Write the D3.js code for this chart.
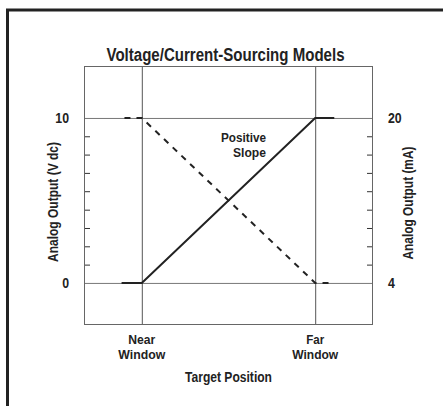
<!DOCTYPE html>
<html>
<head>
<meta charset="utf-8">
<script src="https://cdn.jsdelivr.net/npm/d3@7"></script>
<style>
  body { margin: 0; background: #fff; }
  svg text { font-family: "Liberation Sans", Arial, sans-serif; font-weight: bold; fill: #222; }
</style>
</head>
<body>
<div id="chart"></div>
<script>
// chart values
var windowNames = ["Near Window", "Far Window"];
var windowPositions = [1, 4];
var voltageTicks = [0, 10];
var currentTicks = [4, 20];
var minorTicks = [1.11, 2.22, 3.33, 4.44, 5.56, 6.67, 7.78, 8.89];
var positiveSlope = [[0.65, 0], [1, 0], [4, 10], [4.33, 10]];
var negativeSlope = [[0.7, 10], [1, 10], [4, 0], [4.33, 0]];

var svgWidth = 443;
var svgHeight = 406;
var box = { left: 84, right: 373, top: 66, bottom: 325 };

var svg = d3.select("#chart").append("svg")
  .attr("width", svgWidth)
  .attr("height", svgHeight);

// condensed look: squeeze text to a ratio of its natural width
function squeeze(sel, ratio) {
  sel.each(function() {
    var len = this.getComputedTextLength();
    d3.select(this).attr("textLength", len * (ratio || 0.8)).attr("lengthAdjust", "spacingAndGlyphs");
  });
}

// outer frame (open at right and bottom)
svg.append("path")
  .attr("d", "M7.5,406 V10 H443")
  .attr("fill", "none")
  .attr("stroke", "#222")
  .attr("stroke-width", 3);

var xScale = d3.scaleLinear().domain([0, 5]).range([box.left, box.right]);
var yScale = d3.scaleLinear().domain([-2.55, 13.15]).range([box.bottom, box.top]);
var mAScale = d3.scaleLinear().domain([4, 20]).range([yScale(0), yScale(10)]);

var w = box.right - box.left;

// minor ticks, inward on both sides
svg.append("g")
  .attr("transform", `translate(${box.left},0)`)
  .call(d3.axisLeft(yScale).tickValues(minorTicks).tickSize(-6).tickFormat(""))
  .call(g => g.select(".domain").remove())
  .selectAll("line").attr("stroke", "#333");

svg.append("g")
  .attr("transform", `translate(${box.right},0)`)
  .call(d3.axisRight(yScale).tickValues(minorTicks).tickSize(-6).tickFormat(""))
  .call(g => g.select(".domain").remove())
  .selectAll("line").attr("stroke", "#333");

// gridlines at 0 and 10 with labels
var leftAxis = svg.append("g")
  .attr("transform", `translate(${box.left},0)`)
  .call(d3.axisLeft(yScale).tickValues(voltageTicks).tickSize(-w).tickPadding(15));
leftAxis.select(".domain").remove();
leftAxis.selectAll("line").attr("stroke", "#777");
leftAxis.selectAll("text").attr("font-size", 15).attr("fill", "#222")
  .attr("font-family", null).call(squeeze, 0.82);

var rightAxis = svg.append("g")
  .attr("transform", `translate(${box.right},0)`)
  .call(d3.axisRight(mAScale).tickValues(currentTicks).tickSize(0).tickPadding(15));
rightAxis.select(".domain").remove();
rightAxis.selectAll("text").attr("font-size", 15).attr("fill", "#222")
  .attr("font-family", null).call(squeeze, 0.82);

// window verticals
svg.append("g")
  .attr("transform", `translate(0,${box.bottom})`)
  .call(d3.axisBottom(xScale).tickValues(windowPositions).tickSize(-(box.bottom - box.top)).tickFormat(""))
  .call(g => g.select(".domain").remove())
  .selectAll("line").attr("stroke", "#555");

// box
svg.append("rect")
  .attr("x", box.left + 0.5)
  .attr("y", box.top + 0.5)
  .attr("width", w - 1)
  .attr("height", box.bottom - box.top - 1)
  .attr("fill", "none")
  .attr("stroke", "#666");

var line = d3.line().x(d => xScale(d[0])).y(d => yScale(d[1]));

svg.append("path")
  .datum(positiveSlope)
  .attr("d", line)
  .attr("fill", "none")
  .attr("stroke", "#222")
  .attr("stroke-width", 2);

svg.append("path")
  .datum(negativeSlope)
  .attr("d", line)
  .attr("fill", "none")
  .attr("stroke", "#222")
  .attr("stroke-width", 2)
  .attr("stroke-dasharray", "6,6");

// texts, squeezed to the widths seen in the reference
function label(x, y, str, size, width, anchor) {
  return svg.append("text")
    .attr("x", x)
    .attr("y", y)
    .attr("text-anchor", anchor || "middle")
    .attr("font-size", size)
    .attr("textLength", width)
    .attr("lengthAdjust", "spacingAndGlyphs")
    .text(str);
}

label((box.left + box.right) / 2 - 3, 61, "Voltage/Current-Sourcing Models", 18, 238);

label(266, 142, "Positive", 13, 45, "end");
label(266, 157, "Slope", 13, 33, "end");

label(0, 0, "Analog Output (V dc)", 15, 120)
  .attr("transform", "translate(58,202) rotate(-90)");

label(0, 0, "Analog Output (mA)", 15, 113)
  .attr("transform", "translate(413,203) rotate(-90)");

var lineWidths = [[27, 47], [18, 46]];
windowNames.forEach(function(name, i) {
  name.split(" ").forEach(function(p, j) {
    label(xScale(windowPositions[i]), 344 + j * 15, p, 13, lineWidths[i][j]);
  });
});

label((box.left + box.right) / 2, 382, "Target Position", 14, 87);
</script>
</body>
</html>
